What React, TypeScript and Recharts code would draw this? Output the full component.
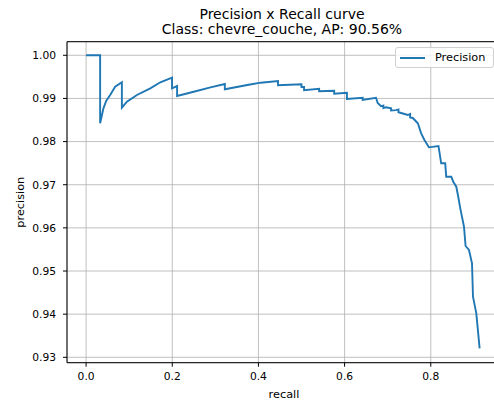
import { LineChart, Line, XAxis, YAxis, CartesianGrid, ReferenceLine, Legend } from 'recharts';

// precision/recall pairs
const recall = [
  0.0, 0.0326, 0.0326, 0.0403, 0.0466, 0.0559, 0.0675, 0.0831, 0.0831, 0.0948,
  0.118, 0.149, 0.1723, 0.1995, 0.1995, 0.2112, 0.2112, 0.2498, 0.2887, 0.322,
  0.322, 0.3742, 0.4051, 0.4454, 0.4454, 0.4999, 0.4999, 0.5059, 0.5059, 0.5409,
  0.5409, 0.5758, 0.5758, 0.6054, 0.6054, 0.6419, 0.6419, 0.6729, 0.6768, 0.6845,
  0.6900, 0.6900, 0.6962, 0.7078, 0.7078, 0.7195, 0.7250, 0.7250, 0.7311, 0.7467,
  0.7520, 0.7520, 0.7583, 0.77, 0.7777, 0.7853, 0.7956,
  0.8179, 0.8242, 0.8335, 0.8359, 0.8475, 0.8522, 0.8592, 0.8638, 0.8685, 0.8771,
  0.8808, 0.8887, 0.8957, 0.898, 0.9057, 0.9134,
];
const precision = [
  1.0, 1.0, 0.98424, 0.98771, 0.98941, 0.9908, 0.99272, 0.99374, 0.98785, 0.98924,
  0.9908, 0.99235, 0.99374, 0.99481, 0.99235, 0.99288, 0.99057, 0.99156, 0.99258, 0.99335,
  0.99212, 0.99312, 0.99365, 0.99404, 0.99305, 0.99328, 0.99265, 0.99265, 0.99189, 0.99226,
  0.99166, 0.99179, 0.9911, 0.99133, 0.98987, 0.99017, 0.98964, 0.99017, 0.98894, 0.98818,
  0.98835, 0.98780, 0.98795, 0.98770, 0.98720, 0.98730, 0.98745, 0.98680, 0.98663, 0.98616,
  0.98640, 0.98560, 0.98547, 0.98424, 0.98192, 0.98037, 0.97867,
  0.97898, 0.97497, 0.97497, 0.97186, 0.97186, 0.9707, 0.96954, 0.96722, 0.96453, 0.96027,
  0.9558, 0.95487, 0.95178, 0.94404, 0.94019, 0.93208,
];

const xTicks = [0, 0.2, 0.4, 0.6, 0.8];
const yTicks = [0.93, 0.94, 0.95, 0.96, 0.97, 0.98, 0.99, 1.0];

const X_MIN = -0.0443;
const X_MAX = 0.963;
const Y_MIN = 0.92875;
const Y_MAX = 1.00315;

const data = recall.map((r, i) => ({ recall: r, precision: precision[i] }));

const FONT = '"DejaVu Sans", sans-serif';
const tickStyle = { fontSize: 10.7, fill: '#000', fontFamily: FONT };

function LegendBox() {
  return (
    <div style={{
      display: 'flex', alignItems: 'center', background: 'rgba(255,255,255,0.8)',
      border: '1px solid #d0d0d0', borderRadius: 3, padding: '3px 8px 3px 4px',
      fontFamily: FONT, fontSize: 11.3, color: '#000',
    }}>
      <span style={{ display: 'inline-block', width: 25, height: 0, borderTop: '2px solid #1f77b4', marginRight: 10 }} />
      <span>Precision</span>
    </div>
  );
}

export default function App() {
  return (
    <div style={{
      position: 'absolute', left: 0, top: 0, width: 494, height: 403,
      overflow: 'hidden', background: '#fff', fontFamily: FONT,
    }}>
      <div style={{
        position: 'absolute', left: 67, top: 6.5, width: 430, textAlign: 'center',
        fontSize: 14, lineHeight: '15px', color: '#000',
      }}>
        Precision x Recall curve<br />Class: chevre_couche, AP: 90.56%
      </div>
      <LineChart width={520} height={403} data={data}
        margin={{ top: 41.7, right: 19, bottom: 0, left: 7 }}>
        <CartesianGrid stroke="#b0b0b0" strokeWidth={0.8} />
        <XAxis type="number" dataKey="recall" domain={[X_MIN, X_MAX]} ticks={xTicks}
          allowDataOverflow height={40.3} tick={tickStyle} tickSize={4} tickMargin={6}
          tickFormatter={(v: number) => v.toFixed(1)}
          stroke="#000" tickLine={{ stroke: '#000' }}
          label={{ value: 'recall', position: 'insideBottom', offset: 5, fontSize: 11.3, fill: '#000', fontFamily: FONT }} />
        <YAxis type="number" domain={[Y_MIN, Y_MAX]} ticks={yTicks} allowDataOverflow
          width={60} tick={tickStyle} tickSize={4} tickMargin={7}
          tickFormatter={(v: number) => v.toFixed(2)}
          stroke="#000" tickLine={{ stroke: '#000' }}
          label={{ value: 'precision', angle: -90, position: 'insideLeft', offset: 13,
            fontSize: 11.3, fill: '#000', fontFamily: FONT, style: { textAnchor: 'middle' } }} />
        <ReferenceLine y={Y_MAX} stroke="#000" strokeWidth={1} />
        <Legend layout="horizontal" verticalAlign="middle" align="center"
          wrapperStyle={{ top: 47, left: 395, width: 'auto' }}
          content={() => <LegendBox />} />
        <Line type="linear" dataKey="precision" name="Precision" stroke="#1f77b4"
          strokeWidth={1.9} dot={false} isAnimationActive={false} />
      </LineChart>
    </div>
  );
}
